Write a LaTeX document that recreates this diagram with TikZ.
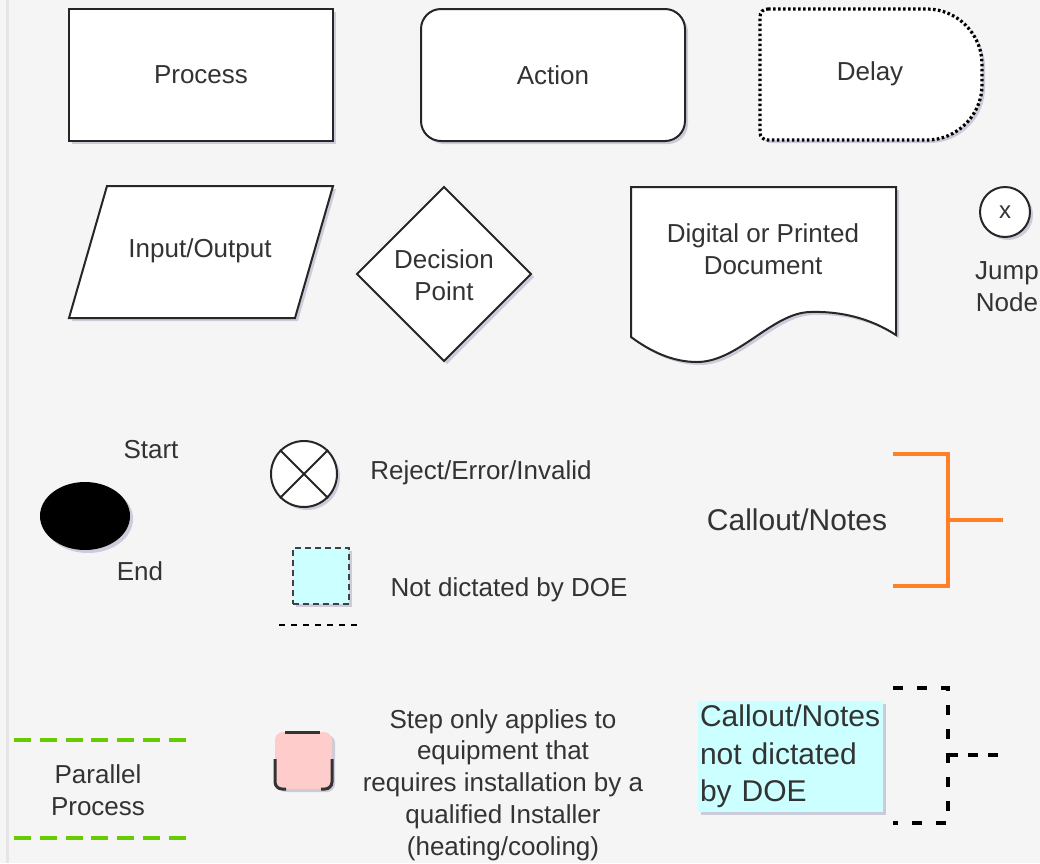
\documentclass[tikz,border=0pt]{standalone}
\usepackage{fontspec}
\setmainfont{Liberation Sans}
\usetikzlibrary{shapes.geometric,shadows,positioning}
\definecolor{bgcol}{HTML}{F5F5F5}
\definecolor{txtcol}{HTML}{333333}
\definecolor{calloutcol}{HTML}{FF8026}
\definecolor{parcol}{HTML}{66CC00}
\definecolor{nodoecol}{HTML}{CCFFFF}
\definecolor{stepcol}{HTML}{FFCCCC}
\definecolor{shadowcol}{HTML}{9A9AB8}

\begin{document}
\begin{tikzpicture}[x=1pt, y=-1pt,
    softshadow/.style={drop shadow={shadow xshift=3pt, shadow yshift=-3pt, opacity=0.45, fill=shadowcol}},
    shapebox/.style={draw=black!85, line width=2pt, fill=white, softshadow},
    lbl/.style={font=\fontsize{26}{32}\selectfont, text=txtcol, align=center},
    biglbl/.style={font=\fontsize{30}{37.5}\selectfont, text=txtcol}]
    % background
    \useasboundingbox[fill=bgcol] (0,0) rectangle (1040,863);
    \draw[line width=3pt, black!10] (7,0) -- (7,863);

    % Process
    \node[shapebox, minimum width=264pt, minimum height=132pt, lbl] (process) at (201,75) {Process};

    % Action
    \node[shapebox, rounded corners=20pt, minimum width=264pt, minimum height=132pt, lbl] (action) at (553,75) {Action};

    % Delay
    \draw[shapebox, draw=black, line width=3.2pt, dash pattern=on 2.6pt off 2.4pt]
        (768,9) -- (927,9) .. controls (957,9) and (982,34) .. (982,64)
        -- (982,85) .. controls (982,115) and (957,140) .. (927,140)
        -- (768,140) .. controls (763,140) and (760,137) .. (760,132)
        -- (760,17) .. controls (760,12) and (763,9) .. (768,9) -- cycle;
    \node[lbl] (delay) at (870,74) {Delay};

    % Input/Output
    \draw[shapebox] (107,186) -- (333,186) -- (295,318) -- (69,318) -- cycle;
    \node[lbl] (io) at (200,251) {Input/Output};

    % Decision point
    \draw[shapebox] (444,187) -- (531,274) -- (444,361) -- (357,274) -- cycle;
    \node[lbl] (decision) at (444,275) {Decision\\Point};

    % Document
    \draw[shapebox] (631,187) -- (896,187) -- (896,335)
        .. controls (870,318) and (840,311) .. (810,312)
        .. controls (772,313) and (738,362) .. (697,362)
        .. controls (672,362) and (650,351) .. (631,337) -- cycle;
    \node[lbl] (document) at (763,249) {Digital or Printed\\Document};

    % Jump node
    \node[shapebox, circle, minimum size=50pt, inner sep=0pt, font=\fontsize{24}{24}\selectfont, text=txtcol] (jump) at (1005,212) {x};
    \node[lbl] (jumplbl) at (1007,287) {Jump\\Node};

    % Start / End
    \node[ellipse, fill=black, minimum width=90pt, minimum height=68pt, softshadow] (startend) at (85,516) {};
    \node[lbl] (startlbl) at (151,450) {Start};
    \node[lbl] (endlbl) at (140,571) {End};

    % Reject
    \node[shapebox, circle, minimum size=66pt] (reject) at (304,474) {};
    \draw[line width=2pt, black!85] (reject.north west) -- (reject.south east);
    \draw[line width=2pt, black!85] (reject.north east) -- (reject.south west);
    \node[lbl] (rejectlbl) at (481,473) {Reject/Error/Invalid};

    % Not dictated by DOE
    \node[draw=black!75, line width=2.4pt, dash pattern=on 6pt off 4pt, fill=nodoecol, minimum size=56pt, softshadow] (nodoe) at (321,576) {};
    \draw[line width=2pt, black, dash pattern=on 6pt off 6pt] (279,625) -- (362,625);
    \node[lbl] (nodoelbl) at (509,590) {Not dictated by DOE};

    % Callout/Notes
    \node[biglbl] (callout) at (797,520) {Callout/Notes};
    \draw[line width=3.5pt, calloutcol] (893,454) -- (948,454) -- (948,586) -- (893,586);
    \draw[line width=3.5pt, calloutcol] (948,520) -- (1003,520);

    % Parallel process
    \draw[line width=3.5pt, parcol, dash pattern=on 17pt off 8.8pt] (14,740) -- (186,740);
    \draw[line width=3.5pt, parcol, dash pattern=on 17pt off 8.8pt] (14,838) -- (186,838);
    \node[lbl] (parallel) at (98,790) {Parallel\\Process};

    % Installer step
    \fill[stepcol, rounded corners=8pt, softshadow] (275,732) rectangle (332,789);
    \draw[line width=3pt, txtcol] (285,732) -- (320,732);
    \draw[line width=3pt, txtcol, rounded corners=7pt] (275,759) -- (275,789) -- (286,789);
    \draw[line width=3pt, txtcol, rounded corners=7pt] (332,759) -- (332,789) -- (321,789);
    \node[lbl, font=\fontsize{26}{31.75}\selectfont] (steplbl) at (503,785) {Step only applies to\\equipment that\\requires installation by a\\qualified Installer\\(heating/cooling)};

    % Callout not dictated by DOE
    \node[fill=nodoecol, softshadow, minimum width=185pt, minimum height=111pt, text width=181pt, inner sep=2pt, align=left, biglbl] (calloutdoe) at (790.5,756.5) {Callout/Notes\\not dictated\\by DOE};
    \draw[line width=3.5pt, black, dash pattern=on 10pt off 14pt] (893,688) -- (948,688) -- (948,823) -- (893,823);
    \draw[line width=3.5pt, black, dash pattern=on 10pt off 10pt] (948,755) -- (1003,755);
\end{tikzpicture}
\end{document}
